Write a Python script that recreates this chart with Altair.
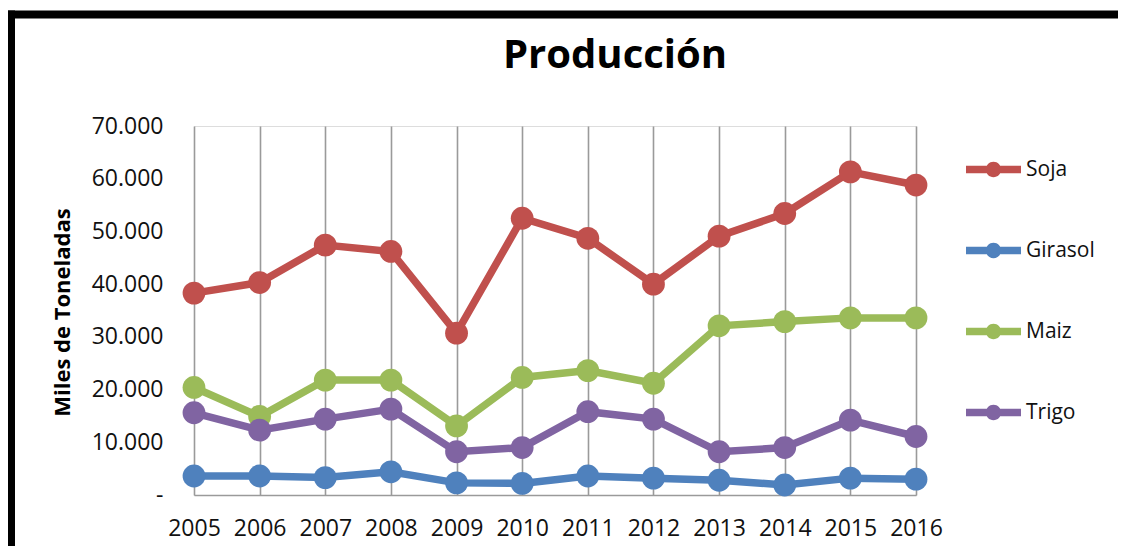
import altair as alt
import pandas as pd

title_text = ["Producción"]
years = ["2005", "2006", "2007", "2008", "2009", "2010", "2011", "2012", "2013", "2014", "2015", "2016"]
series = ["Soja", "Girasol", "Maiz", "Trigo"]
colors = ["#C0504D", "#4F81BD", "#9BBB59", "#8064A2"]

soja = [38300, 40300, 47400, 46200, 30700, 52500, 48700, 40000, 49100, 53400, 61300, 58800]
girasol = [3600, 3600, 3300, 4400, 2300, 2200, 3600, 3200, 2800, 1900, 3200, 3000]
maiz = [20400, 14900, 21800, 21800, 13100, 22300, 23600, 21200, 32100, 32900, 33600, 33600]
trigo = [15600, 12300, 14400, 16300, 8200, 9000, 15800, 14400, 8200, 9000, 14200, 11100]

y_ticks = [0, 10000, 20000, 30000, 40000, 50000, 60000, 70000]

rows = []
for name, vals in zip(series, [soja, girasol, maiz, trigo]):
    for yr, v in zip(years, vals):
        rows.append({"Año": yr, "Cultivo": name, "Valor": v})
df = pd.DataFrame(rows)

FONT = "Open Sans"

x_enc = alt.X(
    "Año:O",
    sort=years,
    scale=alt.Scale(type="point", padding=0),
    axis=alt.Axis(
        title=None, labelAngle=0, labelFont=FONT, labelFontSize=23, labelColor="#111111",
        labelPadding=22, ticks=False, grid=True, gridColor="#9a9a9a", gridWidth=1.6,
        domain=True, domainColor="#9a9a9a", domainWidth=1.6,
    ),
)
y_enc = alt.Y(
    "Valor:Q",
    scale=alt.Scale(domain=[0, 70000], nice=False),
    axis=alt.Axis(
        values=y_ticks, grid=False, domain=False, ticks=False,
        labelFont=FONT, labelFontSize=23, labelColor="#111111", labelPadding=31,
        labelExpr="datum.value == 0 ? '-\u00a0\u00a0\u00a0\u00a0' : replace(format(datum.value, ','), ',', '.')",
        title="Miles de Toneladas", titleFont=FONT, titleFontSize=22, titleFontWeight="bold",
        titleColor="#000000", titleAngle=270, titleX=-132, titleY=186, titleAlign="center",
        titleBaseline="middle",
    ),
)

legend_path = ("M-1,-0.14L1,-0.14L1,0.14L-1,0.14Z "
               "M-0.28,0A0.28,0.28 0 1,1 0.28,0A0.28,0.28 0 1,1 -0.28,0Z")

base = alt.Chart(df).encode(x=x_enc, y=y_enc)

lines = base.mark_line(strokeWidth=7.5).encode(
    color=alt.Color("Cultivo:N", scale=alt.Scale(domain=series, range=colors), legend=None),
    detail="Cultivo:N",
)
points = base.mark_point(filled=True, size=520, opacity=1, strokeWidth=0).encode(
    color=alt.Color(
        "Cultivo:N",
        scale=alt.Scale(domain=series, range=colors),
        legend=alt.Legend(
            title=None, orient="none", legendX=772, legendY=16, padding=0,
            symbolType=legend_path, symbolSize=3025, symbolStrokeWidth=0, symbolOpacity=1,
            labelFont=FONT, labelFontSize=21, labelColor="#111111", labelOffset=5,
            rowPadding=43,
        ),
    ),
)

frame = alt.Chart(alt.Data(values=[{"k": 1}]))
top_border = frame.mark_rule(color="#000000", strokeWidth=8).encode(
    x=alt.value(-187), x2=alt.value(930), y=alt.value(-111.5)
)
left_border = frame.mark_rule(color="#000000", strokeWidth=8).encode(
    x=alt.value(-183), y=alt.value(-115.5), y2=alt.value(430)
)

title_mark = alt.Chart(pd.DataFrame({"t": title_text})).mark_text(
    font=FONT, fontSize=40, fontWeight="bold", color="#000000",
    align="center", baseline="alphabetic",
).encode(text="t:N", x=alt.value(421), y=alt.value(-58))

chart = alt.layer(top_border, left_border, title_mark, lines, points).resolve_legend(
    color="independent"
).properties(
    width=722,
    height=369,
    autosize=alt.AutoSizeParams(type="none"),
    padding={"left": 186, "top": 118, "right": 202, "bottom": 51},
).configure_view(stroke=None).configure(background="#ffffff")

chart.save("out.html", embed_options={"renderer": "svg", "actions": False})
